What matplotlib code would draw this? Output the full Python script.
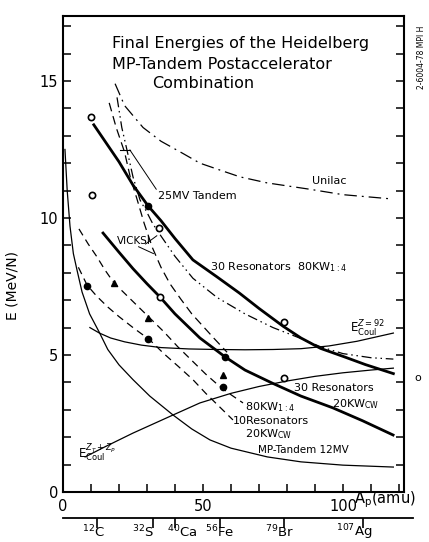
import numpy as np
import matplotlib
matplotlib.use('Agg')
from matplotlib import pyplot as plt
from matplotlib import transforms

plt.rcParams.update({
    'font.family': 'DejaVu Sans',
    'font.size': 10,
    'mathtext.fontset': 'dejavusans',
})

# thick: 25MV Tandem / 30 resonators 80KW 1:4
t1_x = [11, 15, 20, 25, 30.4, 35, 40, 46.4, 55, 63, 70, 78.6, 85, 92, 100, 108, 118]
t1_y = [13.4, 12.8, 12.05, 11.2, 10.44, 9.9, 9.25, 8.47, 7.85, 7.26, 6.7, 6.05, 5.62, 5.24, 4.95, 4.65, 4.32]
# thick: 30 resonators 20KW cw
t2_x = [14.3, 20, 25, 30, 34.6, 40, 48.9, 57.9, 65, 74.6, 85, 96.4, 107, 117.9]
t2_y = [9.45, 8.75, 8.15, 7.6, 7.12, 6.5, 5.62, 4.93, 4.45, 3.98, 3.5, 3.07, 2.6, 2.08]
# Unilac
uni_x = [18.6, 22, 28.6, 35, 42.9, 48.9, 56, 63.2, 72.9, 88, 100, 116.8]
uni_y = [14.9, 14.1, 13.3, 12.8, 12.35, 12.0, 11.75, 11.5, 11.28, 11.05, 10.85, 10.7]
# MP-Tandem 12 MV
mp_x = [0.7, 1.5, 2.5, 3.7, 5, 6.8, 9.5, 12.9, 16, 20, 25, 31, 39.3, 46, 52.5, 60, 73, 85, 100, 118]
mp_y = [12.5, 11.0, 9.7, 8.7, 8.1, 7.3, 6.5, 5.84, 5.2, 4.64, 4.1, 3.5, 2.81, 2.3, 1.9, 1.6, 1.28, 1.1, 0.98, 0.91]
# Coulomb barriers
ct_x = [7.9, 15, 25, 39.3, 48.9, 60, 70, 80, 90, 100, 110, 118]
ct_y = [1.28, 1.65, 2.15, 2.81, 3.25, 3.6, 3.85, 4.05, 4.22, 4.35, 4.45, 4.52]
c92_x = [9.6, 13, 17, 22, 28, 35, 45, 55, 65, 75, 85, 95, 105, 118]
c92_y = [6.0, 5.8, 5.62, 5.48, 5.36, 5.27, 5.22, 5.2, 5.19, 5.2, 5.23, 5.33, 5.5, 5.8]
# dashed: 80KW 1:4 and 10 resonators 20KW cw
da_x = [5.7, 9, 12, 15, 18.2, 22, 26, 31, 36, 41, 46, 51, 56, 60, 64.3]
da_y = [9.6, 9.05, 8.6, 8.1, 7.63, 7.25, 6.85, 6.35, 5.85, 5.3, 4.8, 4.3, 3.85, 3.55, 3.25]
db_x = [5.5, 8.6, 12, 16, 20, 25, 31, 36, 41, 46.4, 51, 56, 60.7]
db_y = [8.2, 7.55, 7.15, 6.75, 6.4, 6.0, 5.55, 5.05, 4.6, 4.1, 3.6, 3.1, 2.63]
# VICKSI
v1_x = [16.5, 19, 22, 24, 26.4, 29, 32, 35, 38.2, 42, 46, 50, 54, 58.6]
v1_y = [14.2, 13.3, 12.4, 11.5, 10.7, 9.8, 8.9, 8.2, 7.6, 7.05, 6.5, 6.05, 5.6, 5.1]
v2_x = [19.3, 21, 22.8, 25, 27.5, 30, 32, 34.6, 40, 46.4, 55, 65, 75, 85, 92, 100, 110, 118]
v2_y = [14.4, 13.3, 12.5, 11.5, 10.66, 10.2, 9.8, 9.4, 8.6, 7.8, 7.1, 6.5, 6.0, 5.6, 5.3, 5.05, 4.9, 4.85]

# measured points
open_x = [10, 10.4, 34.3, 34.6, 79, 79]
open_y = [13.7, 10.84, 9.64, 7.12, 6.2, 4.16]
fill_x = [8.6, 30.4, 57.1, 30.4, 57.9]
fill_y = [7.5, 5.58, 3.83, 10.44, 4.93]
tri_x = [18.2, 30.4, 57.1]
tri_y = [7.63, 6.35, 4.27]

iso_mass = [12, 32, 40, 56, 79, 107]
iso_names = [r'$^{12}$C', r'$^{32}$S', r'$^{40}$Ca', r'$^{56}$Fe', r'$^{79}$Br', r'$^{107}$Ag']
iso_text_x = [10.9, 28.6, 42.5, 56, 77.3, 104]

fig = plt.figure(figsize=(4.29, 5.42), dpi=100)
ax = fig.add_axes([63/429, 50/542, 341/429, 476/542])

thin = 0.9
ax.plot(t1_x, t1_y, color='black', lw=2.0)
ax.plot(t2_x, t2_y, color='black', lw=2.0)
ax.plot(uni_x, uni_y, color='black', lw=thin, ls=(0, (10, 4, 1.5, 4)))
ax.plot(mp_x, mp_y, color='black', lw=thin)
ax.plot(ct_x, ct_y, color='black', lw=thin)
ax.plot(c92_x, c92_y, color='black', lw=thin)
ax.plot(da_x, da_y, color='black', lw=thin, ls=(0, (6, 4)))
ax.plot(db_x, db_y, color='black', lw=thin, ls=(0, (6, 4)))
ax.plot(v1_x, v1_y, color='black', lw=thin, ls=(0, (7, 4)))
ax.plot(v2_x, v2_y, color='black', lw=thin, ls=(0, (8, 3, 1.2, 3, 1.2, 3)))

ax.plot(open_x, open_y, 'o', ms=4.5, mfc='white', mec='black', mew=1.2)
ax.plot(fill_x, fill_y, 'o', ms=4.5, color='black')
ax.plot(tri_x, tri_y, '^', ms=5, color='black')

# bracket + leader lines
ax.plot([20.4, 23.9], [12.48, 12.48], color='black', lw=0.8)
ax.plot([23.9, 33.3], [12.48, 11.05], color='black', lw=0.7)
ax.plot([27.0, 32.3], [8.95, 8.7], color='black', lw=0.7)
ax.plot([29.5, 33.5], [9.05, 9.35], color='black', lw=0.7)

ax.set_xlim(0, 121.8)
ax.set_ylim(0, 17.37)
ax.set_xticks([0, 50, 100])
ax.set_xticks(np.arange(0, 121, 10), minor=True)
ax.set_yticks([0, 5, 10, 15])
ax.set_yticks(np.arange(0, 18, 1), minor=True)
ax.tick_params(which='both', direction='in', length=6, width=1.1, right=True, labelsize=10.5)
ax.tick_params(axis='x', pad=5)
for s in ax.spines.values():
    s.set_linewidth(1.5)

# texts
ax.text(17.5, 16.35, 'Final Energies of the Heidelberg', fontsize=11.5, va='center')
ax.text(17.5, 15.6, 'MP-Tandem Postaccelerator', fontsize=11.5, va='center')
ax.text(31.8, 14.9, 'Combination', fontsize=11.5, va='center')
sm = 8
ax.text(89, 11.35, 'Unilac', fontsize=sm, va='center')
ax.text(33.8, 10.8, '25MV Tandem', fontsize=sm, va='center')
ax.text(19.3, 9.15, 'VICKSI', fontsize=sm - 0.5, va='center')
ax.text(52.5, 8.2, r'30 Resonators  80KW$_{1:4}$', fontsize=sm, va='center')
ax.text(102.5, 5.95, r'E$^{Z=92}_{\rm Coul}$', fontsize=sm + 0.5, va='center')
ax.text(82.5, 3.8, '30 Resonators', fontsize=sm, va='center')
ax.text(96.2, 3.2, r'20KW$_{\rm CW}$', fontsize=sm, va='center')
ax.text(65.0, 3.08, r'80KW$_{1:4}$', fontsize=sm, va='center')
ax.text(60.5, 2.6, '10Resonators', fontsize=sm, va='center')
ax.text(65.0, 2.1, r'20KW$_{\rm CW}$', fontsize=sm, va='center')
ax.text(69.5, 1.53, 'MP-Tandem 12MV', fontsize=sm - 0.5, va='center')
ax.text(5.2, 1.4, r'E$^{Z_T+Z_P}_{\rm Coul}$', fontsize=sm + 0.5, va='center')

fig.text(12/429, 1 - 285/542, 'E (MeV/N)', rotation=90, ha='center', va='center', fontsize=10)
fig.text(354/429, 1 - 500/542, r'A$_{\rm p}$(amu)', ha='left', va='center', fontsize=10.5)
fig.text(422/429, 1 - 57/542, '2-6004-78 MPI H', rotation=90, ha='center', va='center', fontsize=5.5)
fig.text(418/429, 1 - 378/542, 'o', ha='center', va='center', fontsize=8)

# isotope scale below
ax2 = fig.add_axes([63/429, 24/542, 350/429, 0.0005])
ax2.set_xlim(0, 125)
ax2.set_ylim(0, 1)
for k in ['top', 'left', 'right']:
    ax2.spines[k].set_visible(False)
ax2.spines['bottom'].set_linewidth(1.3)
ax2.set_yticks([])
ax2.set_xticks(iso_mass)
ax2.set_xticklabels([])
ax2.tick_params(axis='x', direction='out', length=7, width=1.2)
tr = transforms.blended_transform_factory(ax2.transData, fig.transFigure)
for xm, nm in zip(iso_text_x, iso_names):
    ax2.text(xm, 1 - 532/542, nm, transform=tr, ha='center', va='center', fontsize=9.5)

fig.savefig('out.png', dpi=100)
plt.close(fig)
